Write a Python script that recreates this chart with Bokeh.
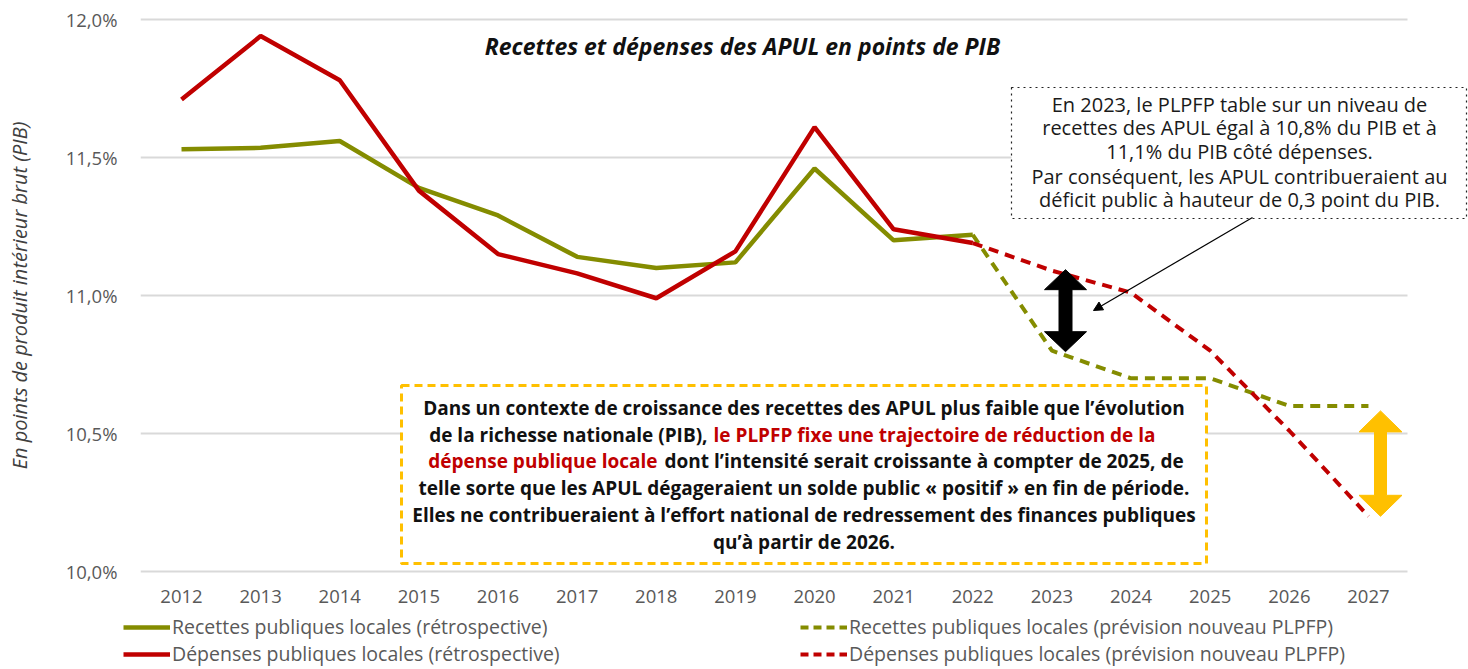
import math
from bokeh.plotting import figure
from bokeh.layouts import column, row
from bokeh.models import (Range1d, Label, BoxAnnotation, Legend, LegendItem, Arrow,
                          NormalHead, FixedTicker, CustomJSTickFormatter)
from bokeh.embed import file_html
from bokeh.resources import INLINE

# ---------------- data ----------------
years_retro = [2012, 2013, 2014, 2015, 2016, 2017, 2018, 2019, 2020, 2021, 2022]
recettes_retro = [11.53, 11.535, 11.56, 11.39, 11.29, 11.14, 11.10, 11.12, 11.46, 11.20, 11.22]
depenses_retro = [11.71, 11.94, 11.78, 11.38, 11.15, 11.08, 10.99, 11.16, 11.61, 11.24, 11.19]

years_prev = [2022, 2023, 2024, 2025, 2026, 2027]
recettes_prev = [11.22, 10.80, 10.70, 10.70, 10.60, 10.60]
depenses_prev = [11.19, 11.09, 11.01, 10.80, 10.51, 10.20]

x_ticks = [2012, 2013, 2014, 2015, 2016, 2017, 2018, 2019, 2020, 2021, 2022, 2023, 2024, 2025, 2026, 2027]
y_ticks = [10.0, 10.5, 11.0, 11.5, 12.0]

legend_labels = [
    "Recettes publiques locales (rétrospective)",
    "Dépenses publiques locales (rétrospective)",
    "Recettes publiques locales (prévision nouveau PLPFP)",
    "Dépenses publiques locales (prévision nouveau PLPFP)",
]

# ---------------- layout ----------------
W = 1468
H1 = 612          # main chart
H2 = 57           # legend strip
FL, FT, FB = 140, 17, 573   # frame left / top / bottom (page px)
PX_X = 79.13
PX_Y = 276.0
X0 = 2012 - (181 - FL) / PX_X
X1 = X0 + (W - FL) / PX_X
Y1 = 12 + 2 / PX_Y
Y0 = 10 - 2 / PX_Y


def px_x(page_x):
    return X0 + (page_x - FL) / PX_X


def px_y(page_y):
    return Y1 - (page_y - FT) / PX_Y


FONT = "Open Sans"
GREEN = "#848c00"
RED = "#c00000"
GREY = "#595959"
GOLD = "#ffc000"

p = figure(width=W, height=H1, x_range=Range1d(X0, X1), y_range=Range1d(Y0, Y1),
           output_backend="svg", toolbar_location=None,
           min_border_left=FL, min_border_right=0, min_border_top=FT, min_border_bottom=H1 - FB)
p.outline_line_color = None
p.grid.visible = False

p.xaxis.ticker = FixedTicker(ticks=x_ticks)
p.yaxis.ticker = FixedTicker(ticks=y_ticks)
p.yaxis.formatter = CustomJSTickFormatter(code="return tick.toFixed(1).replace('.', ',') + '%';")
for ax in (p.xaxis[0], p.yaxis[0]):
    ax.axis_line_color = None
    ax.major_tick_line_color = None
    ax.minor_tick_line_color = None
    ax.major_label_text_font = FONT
    ax.major_label_text_font_size = "18.5px"
    ax.major_label_text_color = GREY
p.xaxis.major_label_standoff = 10
p.yaxis.major_label_standoff = 17
p.yaxis.axis_label = "En points de produit intérieur brut (PIB)"
p.yaxis.axis_label_text_font = FONT
p.yaxis.axis_label_text_font_size = "20px"
p.yaxis.axis_label_text_font_style = "italic"
p.yaxis.axis_label_text_color = "#404040"
p.yaxis.axis_label_standoff = 30

# horizontal gridlines (stop at the last category, as in the reference)
x_grid_end = px_x(1407)
p.segment(x0=[X0] * len(y_ticks), y0=y_ticks, x1=[x_grid_end] * len(y_ticks), y1=y_ticks,
          line_color="#d9d9d9", line_width=2)

# ---------------- lines ----------------
p.line(years_retro, recettes_retro, line_color=GREEN, line_width=4.5)
p.line(years_retro, depenses_retro, line_color=RED, line_width=4.5)
p.line(years_prev, recettes_prev, line_color=GREEN, line_width=4, line_dash="10 7")
p.line(years_prev, depenses_prev, line_color=RED, line_width=4, line_dash="10 7")

# ---------------- boxes ----------------
p.add_layout(BoxAnnotation(left=px_x(1011), right=px_x(1466), top=px_y(87), bottom=px_y(218),
                           fill_color="white", fill_alpha=1, line_color="#222222", line_alpha=1,
                           line_dash="dotted", line_width=1.2))
p.add_layout(BoxAnnotation(left=px_x(401), right=px_x(1206), top=px_y(385), bottom=px_y(563),
                           fill_color="white", fill_alpha=1, line_color=GOLD, line_alpha=1,
                           line_dash="8 5", line_width=3))

# ---------------- title ----------------
p.add_layout(Label(x=px_x(742), y=px_y(45), text="Recettes et dépenses des APUL en points de PIB",
                   text_align="center", text_baseline="middle", text_font=FONT,
                   text_font_size="23px", text_font_style="bold italic", text_color="#111111"))

# ---------------- note text ----------------
note_lines = [
    "En 2023, le PLPFP table sur un niveau de",
    "recettes des APUL égal à 10,8% du PIB et à",
    "11,1% du PIB côté dépenses.",
    "Par conséquent, les APUL contribueraient au",
    "déficit public à hauteur de 0,3 point du PIB.",
]
note_y = [104, 127, 151, 176, 199]
for t, yy in zip(note_lines, note_y):
    p.add_layout(Label(x=px_x(1239), y=px_y(yy), text=t, text_align="center",
                       text_baseline="middle", text_font=FONT, text_font_size="20px",
                       text_color="#1a1a1a"))

# ---------------- yellow box text ----------------
box_cx = px_x(803.5)
box_y = [407, 434, 460, 487, 514, 541]


def blabel(x, yy, t, align, color="#111111"):
    p.add_layout(Label(x=x, y=px_y(yy), text=t, text_align=align, text_baseline="middle",
                       text_font=FONT, text_font_size="19px", text_font_style="bold",
                       text_color=color))


blabel(box_cx, box_y[0], "Dans un contexte de croissance des recettes des APUL plus faible que l’évolution", "center")
blabel(px_x(707), box_y[1], "de la richesse nationale (PIB),", "right")
blabel(px_x(713), box_y[1], "le PLPFP fixe une trajectoire de réduction de la", "left", RED)
blabel(px_x(657), box_y[2], "dépense publique locale", "right", RED)
blabel(px_x(664), box_y[2], "dont l’intensité serait croissante à compter de 2025, de", "left")
blabel(box_cx, box_y[3], "telle sorte que les APUL dégageraient un solde public « positif » en fin de période.", "center")
blabel(box_cx, box_y[4], "Elles ne contribueraient à l’effort national de redressement des finances publiques", "center")
blabel(box_cx, box_y[5], "qu’à partir de 2026.", "center")

# ---------------- arrows ----------------


def double_arrow(cx, y_top, y_bot, hw, hl, sw, color):
    dx_h, dx_s = hw / 2 / PX_X, sw / 2 / PX_X
    dl = hl / PX_Y
    xs = [cx, cx + dx_h, cx + dx_s, cx + dx_s, cx + dx_h, cx, cx - dx_h, cx - dx_s, cx - dx_s, cx - dx_h]
    ys = [y_top, y_top - dl, y_top - dl, y_bot + dl, y_bot + dl, y_bot, y_bot + dl, y_bot + dl, y_top - dl, y_top - dl]
    p.patch(xs, ys, fill_color=color, line_color=color, line_width=1)


double_arrow(px_x(1065), depenses_prev[1] + 1 / PX_Y, recettes_prev[1] - 1 / PX_Y, 42, 20, 13, "black")
double_arrow(px_x(1380), recettes_prev[-1] - 5 / PX_Y, depenses_prev[-1], 43, 21, 12, GOLD)

p.add_layout(Arrow(end=NormalHead(size=9, fill_color="black", line_color="black"),
                   x_start=px_x(1252), y_start=px_y(217), x_end=px_x(1093), y_end=px_y(310),
                   line_color="black", line_width=1.2))

# ---------------- legend strip ----------------
lg = figure(width=W, height=H2, x_range=Range1d(0, 1), y_range=Range1d(0, 1),
            output_backend="svg", toolbar_location=None, min_border=0,
            x_axis_location=None, y_axis_location=None)
lg.outline_line_color = None
lg.grid.visible = False
# legend-only renderers (their single point lies outside the strip's range)
d1 = lg.line([5], [5], line_color=GREEN, line_width=4.5)
d2 = lg.line([5], [5], line_color=RED, line_width=4.5)
d3 = lg.line([5], [5], line_color=GREEN, line_width=4, line_dash="8 5")
d4 = lg.line([5], [5], line_color=RED, line_width=4, line_dash="8 5")


def make_legend(items, loc):
    return Legend(items=items, location=loc, orientation="vertical",
                  glyph_width=47, glyph_height=22, label_height=22, label_standoff=2,
                  spacing=0, padding=0, margin=0, border_line_color=None,
                  background_fill_alpha=0,
                  label_text_font=FONT, label_text_font_size="19.5px", label_text_color=GREY)


lg.add_layout(make_legend([LegendItem(label=legend_labels[0], renderers=[d1]),
                           LegendItem(label=legend_labels[1], renderers=[d2])], (123, 2)))
lg.add_layout(make_legend([LegendItem(label=legend_labels[2], renderers=[d3]),
                           LegendItem(label=legend_labels[3], renderers=[d4])], (800, 2)))

layout = column(p, row(lg, spacing=0), spacing=0)
open("out.html", "w").write(file_html(layout, INLINE))
